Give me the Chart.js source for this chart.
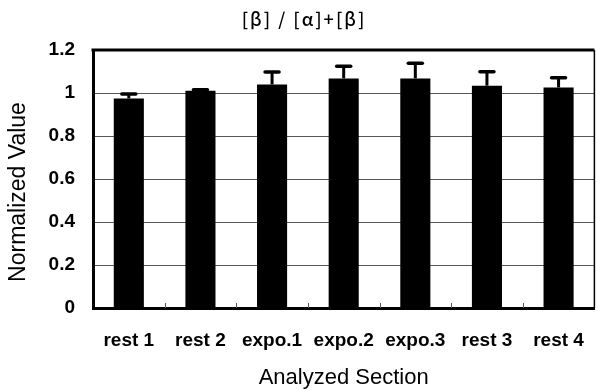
<!DOCTYPE html>
<html><head><meta charset="utf-8">
<script src="https://cdn.jsdelivr.net/npm/chart.js@4/dist/chart.umd.min.js"></script>
<style>html,body{margin:0;padding:0;background:#fff}#wrap{width:597px;height:391px}</style>
</head><body><div id="wrap"><canvas id="c" width="597" height="391"></canvas></div>
<script>
const categories = ['rest 1', 'rest 2', 'expo.1', 'expo.2', 'expo.3', 'rest 3', 'rest 4'];
const values = [0.975, 1.01, 1.04, 1.068, 1.068, 1.034, 1.026];
const errors = [0.02, 0.005, 0.058, 0.057, 0.07, 0.065, 0.045];
const yTicks = [0, 0.2, 0.4, 0.6, 0.8, 1, 1.2];
const titleText = '[β] / [α]+[β]';
const yTitle = 'Normalized Value';
const xTitle = 'Analyzed Section';

const framePlugin = {
  id: 'frame',
  afterDatasetsDraw(chart) {
    const ctx = chart.ctx, a = chart.chartArea;
    const x = chart.scales.x, y = chart.scales.y;
    const meta = chart.getDatasetMeta(0);
    ctx.save();
    // error bars
    ctx.strokeStyle = '#000';
    ctx.lineWidth = 3;
    meta.data.forEach((bar, i) => {
      const yb = y.getPixelForValue(values[i]);
      const yt = y.getPixelForValue(values[i] + errors[i]);
      ctx.lineCap = 'butt';
      ctx.beginPath(); ctx.moveTo(bar.x, yb); ctx.lineTo(bar.x, yt); ctx.stroke();
      ctx.lineCap = 'round';
      ctx.lineWidth = 3.5;
      ctx.beginPath(); ctx.moveTo(bar.x - 7, yt); ctx.lineTo(bar.x + 7, yt); ctx.stroke();
      ctx.lineWidth = 3;
    });
    // small inner ticks at category boundaries
    ctx.lineCap = 'butt';
    ctx.strokeStyle = '#555';
    ctx.lineWidth = 1;
    for (let i = 0; i < categories.length - 1; i++) {
      const px = Math.round((x.getPixelForValue(i) + x.getPixelForValue(i + 1)) / 2) + 0.5;
      ctx.beginPath(); ctx.moveTo(px, a.bottom); ctx.lineTo(px, a.bottom - 5); ctx.stroke();
    }
    // top and right frame
    ctx.strokeStyle = '#000';
    ctx.lineWidth = 3;
    ctx.beginPath(); ctx.moveTo(a.left - 1.5, a.top); ctx.lineTo(a.right, a.top); ctx.stroke();
    ctx.lineWidth = 1.5;
    ctx.beginPath(); ctx.moveTo(a.right, a.top); ctx.lineTo(a.right, a.bottom); ctx.stroke();
    ctx.restore();
  },
  afterDraw(chart) {
    const ctx = chart.ctx;
    ctx.save();
    ctx.fillStyle = '#000';
    // chart title
    ctx.font = "500 18px 'Noto Sans CJK JP', 'DejaVu Sans', sans-serif";
    ctx.letterSpacing = '2px';
    ctx.textAlign = 'center';
    ctx.textBaseline = 'middle';
    ctx.fillText(titleText, 304, 19);
    ctx.letterSpacing = '0px';
    // y axis title
    ctx.font = "23px 'Liberation Sans', Arial, sans-serif";
    ctx.translate(19, 192);
    ctx.rotate(-Math.PI / 2);
    ctx.fillText(yTitle, 0, 0);
    ctx.restore();
  }
};

new Chart(document.getElementById('c'), {
  type: 'bar',
  data: {
    labels: categories,
    datasets: [{
      data: values,
      backgroundColor: '#000',
      borderWidth: 0,
      barPercentage: 0.42,
      categoryPercentage: 1
    }]
  },
  options: {
    responsive: false,
    animation: false,
    devicePixelRatio: 1,
    layout: { padding: { top: 50, right: 1, left: 0, bottom: 0 } },
    plugins: {
      legend: { display: false },
      tooltip: { enabled: false },
      title: { display: false }
    },
    scales: {
      x: {
        grid: { display: false },
        border: { display: true, width: 3, color: '#000' },
        ticks: {
          color: '#000',
          padding: 13,
          maxRotation: 0,
          autoSkip: false,
          font: { family: "'Liberation Sans', Arial, sans-serif", size: 19, weight: 'bold' }
        },
        title: {
          display: true,
          text: xTitle,
          color: '#000',
          padding: 0,
          font: { family: "'Liberation Sans', Arial, sans-serif", size: 22, weight: 'normal', lineHeight: 1.2 }
        },
        afterFit(s) { s.height = 83; }
      },
      y: {
        min: 0,
        max: 1.2,
        afterBuildTicks(s) { s.ticks = yTicks.map(v => ({ value: v })); },
        grid: { color: '#555', lineWidth: 1, drawTicks: false },
        border: { display: true, width: 3, color: '#000' },
        ticks: {
          color: '#000',
          padding: 18,
          callback: (v) => String(Math.round(v * 10) / 10),
          font: { family: "'Liberation Sans', Arial, sans-serif", size: 19, weight: 'bold' }
        },
        afterFit(s) { s.width = 93; }
      }
    }
  },
  plugins: [framePlugin]
});
</script>
</body></html>
